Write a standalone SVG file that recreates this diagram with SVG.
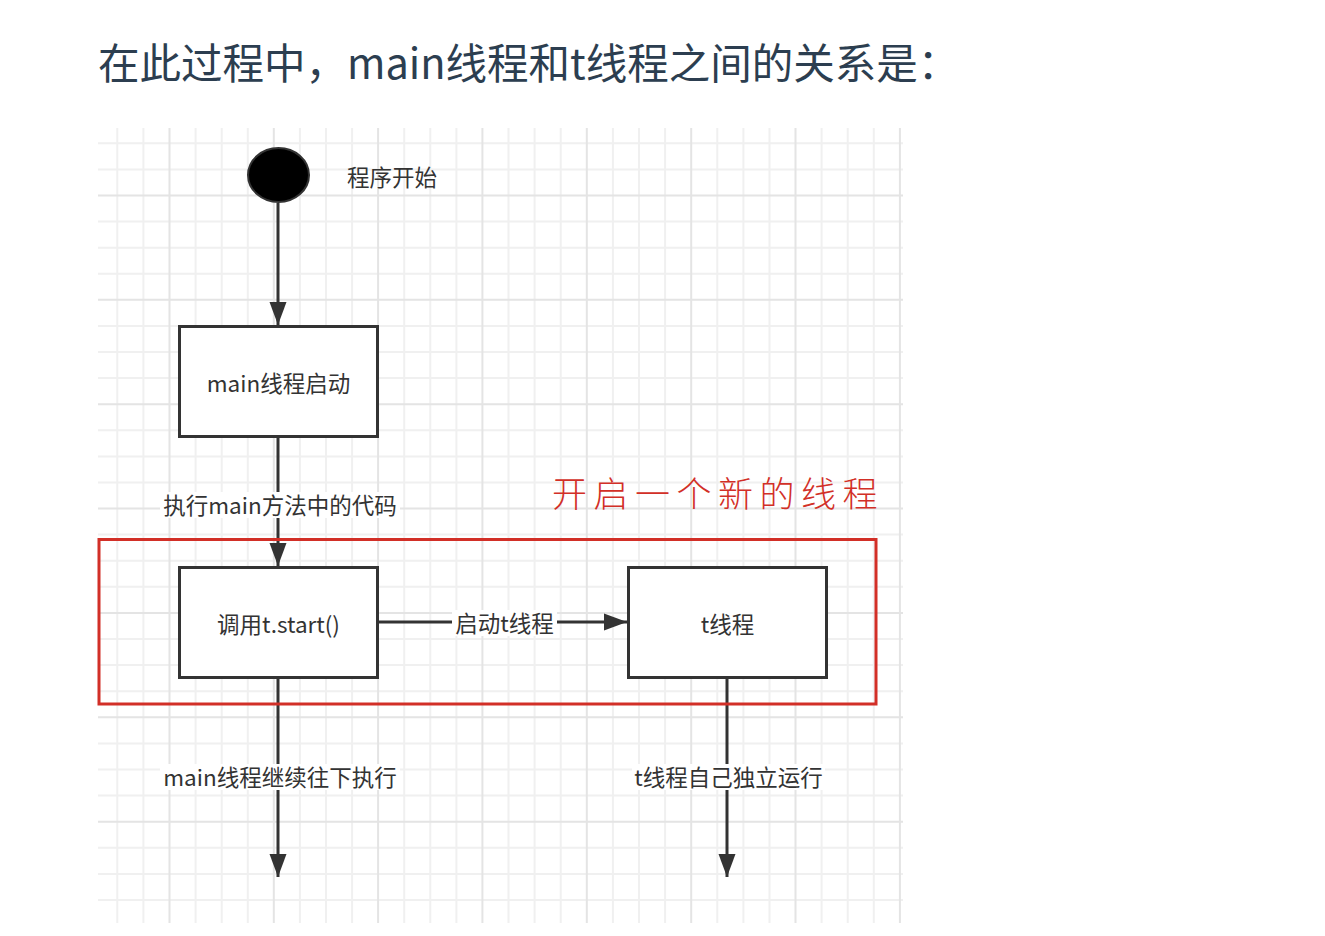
<svg xmlns="http://www.w3.org/2000/svg" width="1325" height="936" viewBox="0 0 1325 936">
  <defs>
    <style>
      .minor { stroke: #f0f0f0; stroke-width: 2; }
      .major { stroke: #e4e4e4; stroke-width: 2; }
      .box { fill: #ffffff; stroke: #333333; stroke-width: 3; }
      .conn { fill: none; stroke: #333333; stroke-width: 3; }
      .lbl { font-family: "Noto Sans CJK SC", "Noto Sans", sans-serif; font-size: 22.5px; fill: #333333; text-anchor: middle; dominant-baseline: central; }
      .lblbg { fill: #ffffff; }
    </style>
    <marker id="arrow" markerUnits="userSpaceOnUse" markerWidth="24" markerHeight="18" refX="23" refY="9" orient="auto">
      <path d="M0,0.5 L23,9 L0,17.5 z" fill="#333333"/>
    </marker>
  </defs>

  <rect width="1325" height="936" fill="#ffffff"/>

  <!-- title -->
  <text x="98" y="79" font-family="Noto Sans CJK SC, Noto Sans, sans-serif" font-size="41.5" fill="#2c3e50">在此过程中，main线程和t线程之间的关系是：</text>

  <!-- grid -->
  <g id="grid">
    <g class="minor">
      <path d="M117.3,128V923 M143.4,128V923 M195.6,128V923 M221.7,128V923 M247.8,128V923 M299.9,128V923 M326,128V923 M352.1,128V923 M404.2,128V923 M430.3,128V923 M456.4,128V923 M508.5,128V923 M534.6,128V923 M560.7,128V923 M612.9,128V923 M639,128V923 M665.1,128V923 M717.3,128V923 M743.4,128V923 M769.5,128V923 M821.6,128V923 M847.7,128V923 M873.8,128V923"/>
      <path d="M98,143.3H903 M98,169.4H903 M98,221.6H903 M98,247.7H903 M98,273.8H903 M98,325.9H903 M98,352H903 M98,378.1H903 M98,430.3H903 M98,456.4H903 M98,482.5H903 M98,534.6H903 M98,560.7H903 M98,586.8H903 M98,639H903 M98,665.1H903 M98,691.2H903 M98,743.4H903 M98,769.5H903 M98,795.6H903 M98,847.8H903 M98,873.9H903 M98,900H903"/>
    </g>
    <g class="major">
      <path d="M169.5,128V923 M273.8,128V923 M378.1,128V923 M482.4,128V923 M586.8,128V923 M691.2,128V923 M795.5,128V923 M899.9,128V923"/>
      <path d="M98,195.5H903 M98,299.8H903 M98,404.2H903 M98,508.5H903 M98,612.9H903 M98,717.3H903 M98,821.7H903"/>
    </g>
  </g>

  <!-- connectors -->
  <g id="connectors">
    <line class="conn" x1="278" y1="203" x2="278" y2="325" marker-end="url(#arrow)"/>
    <line class="conn" x1="278" y1="437" x2="278" y2="566" marker-end="url(#arrow)"/>
    <line class="conn" x1="378" y1="622" x2="627" y2="622" marker-end="url(#arrow)"/>
    <line class="conn" x1="278" y1="678" x2="278" y2="877" marker-end="url(#arrow)"/>
    <line class="conn" x1="727" y1="678" x2="727" y2="877" marker-end="url(#arrow)"/>

    <g id="label-exec">
      <rect class="lblbg" x="160" y="492" width="240" height="26"/>
      <text class="lbl" x="280" y="504">执行main方法中的代码</text>
    </g>
    <g id="label-start-t">
      <rect class="lblbg" x="452" y="610" width="105" height="26"/>
      <text class="lbl" x="504.5" y="622">启动t线程</text>
    </g>
    <g id="label-main-continue">
      <rect class="lblbg" x="160" y="764" width="240" height="26"/>
      <text class="lbl" x="280" y="776">main线程继续往下执行</text>
    </g>
    <g id="label-t-run">
      <rect class="lblbg" x="632" y="764" width="193" height="26"/>
      <text class="lbl" x="728.5" y="776">t线程自己独立运行</text>
    </g>
  </g>

  <!-- nodes -->
  <g id="start">
    <ellipse cx="278.5" cy="175" rx="30.5" ry="27" fill="#000000" stroke="#333333" stroke-width="2"/>
    <text class="lbl" x="392" y="176">程序开始</text>
  </g>

  <g id="main-start">
    <rect class="box" x="179.5" y="326.5" width="198" height="110"/>
    <text class="lbl" x="278.5" y="382">main线程启动</text>
  </g>

  <g id="call-start">
    <rect class="box" x="179.5" y="567.5" width="198" height="110"/>
    <text class="lbl" x="278.5" y="623">调用t.start()</text>
  </g>

  <g id="t-thread">
    <rect class="box" x="628.5" y="567.5" width="198" height="110"/>
    <text class="lbl" x="727.5" y="623">t线程</text>
  </g>

  <!-- red highlight -->
  <g id="highlight">
    <rect x="99" y="539.5" width="777" height="164.5" fill="none" stroke="#d22f27" stroke-width="3"/>
    <text x="552" y="507" font-family="Noto Sans CJK SC, sans-serif" font-size="35" font-weight="300" letter-spacing="6.5" fill="#d22f27">开启一个新的线程</text>
  </g>
</svg>
